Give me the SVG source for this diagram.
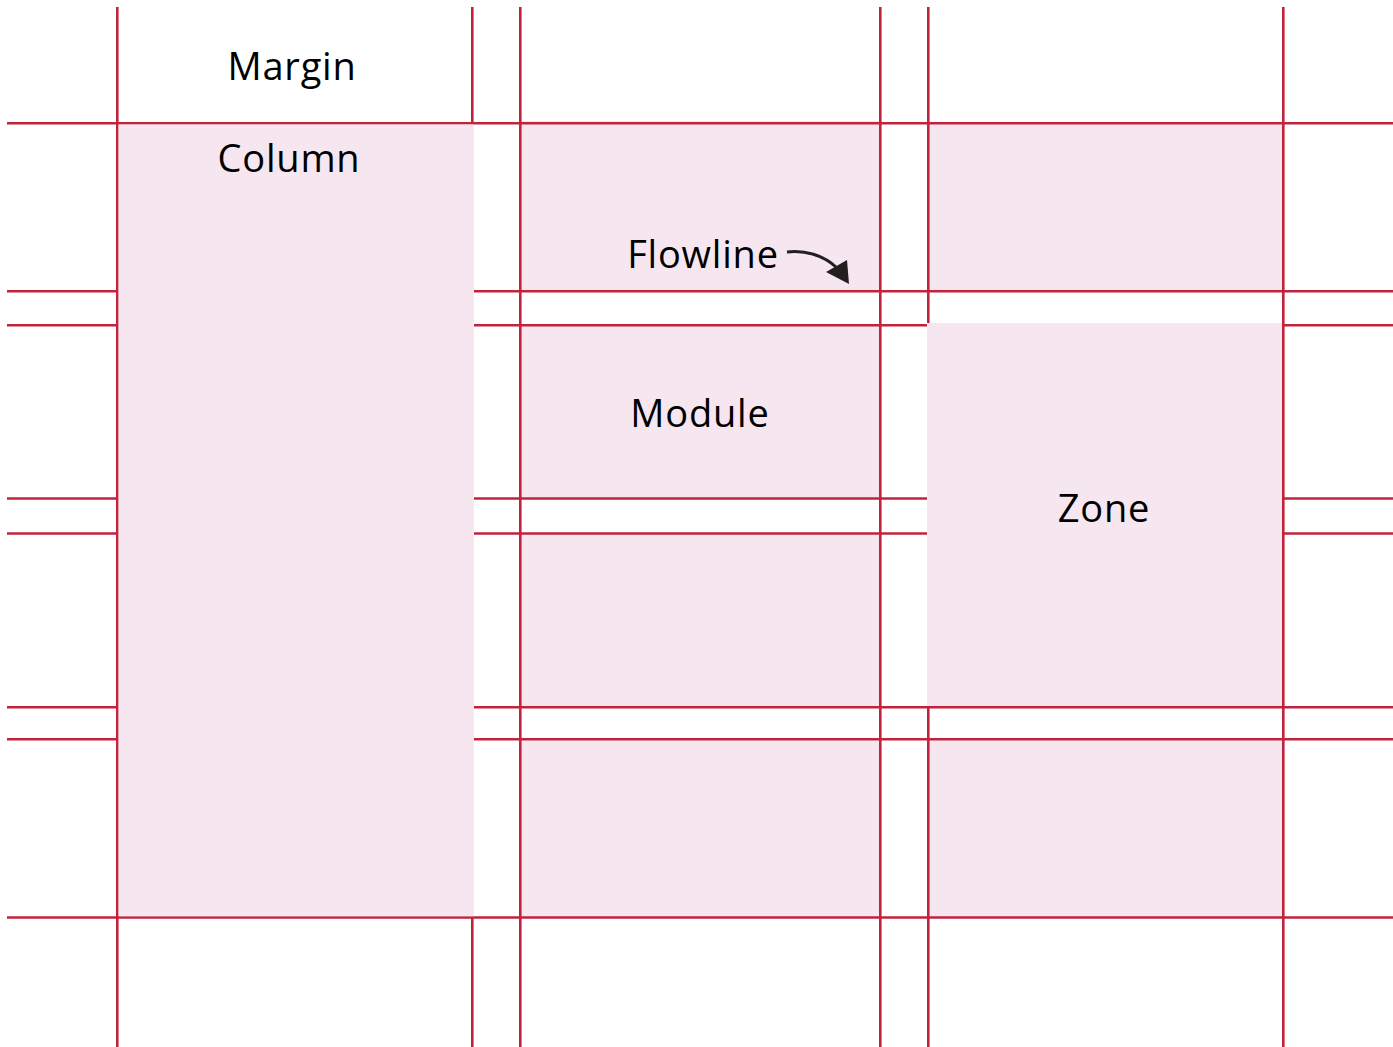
<svg xmlns="http://www.w3.org/2000/svg" width="1393" height="1047" viewBox="0 0 1393 1047">
<style>
.fill{fill:#f6e6f0}
.ln line{stroke:#c1223c;stroke-width:2.6}
.lbl{font-family:"Open Sans","Noto Sans",sans-serif;font-size:38px;letter-spacing:0.8px;fill:#000;text-anchor:middle}
</style>
<rect width="1393" height="1047" fill="#fff"/>
<g id="modules">
<rect class="fill" x="520" y="121" width="360" height="170"/>
<rect class="fill" x="928" y="123" width="355" height="168"/>
<rect class="fill" x="520" y="325" width="360" height="173"/>
<rect class="fill" x="520" y="533" width="360" height="174"/>
<rect class="fill" x="520" y="739" width="360" height="178"/>
<rect class="fill" x="928" y="739" width="355" height="178"/>
</g>
<g id="grid" class="ln">
<line x1="117.3" y1="7" x2="117.3" y2="1047"/>
<line x1="472.3" y1="7" x2="472.3" y2="123"/>
<line x1="472.3" y1="917" x2="472.3" y2="1047"/>
<line x1="520.3" y1="7" x2="520.3" y2="1047"/>
<line x1="880.3" y1="7" x2="880.3" y2="1047"/>
<line x1="928.3" y1="7" x2="928.3" y2="325"/>
<line x1="928.3" y1="707" x2="928.3" y2="1047"/>
<line x1="1283.3" y1="7" x2="1283.3" y2="1047"/>
<line x1="7" y1="123.3" x2="1393" y2="123.3"/>
<line x1="7" y1="291.3" x2="117" y2="291.3"/>
<line x1="474" y1="291.3" x2="1393" y2="291.3"/>
<line x1="7" y1="325.3" x2="117" y2="325.3"/>
<line x1="474" y1="325.3" x2="927" y2="325.3"/>
<line x1="1283" y1="325.3" x2="1393" y2="325.3"/>
<line x1="7" y1="498.5" x2="117" y2="498.5"/>
<line x1="474" y1="498.5" x2="927" y2="498.5"/>
<line x1="1283" y1="498.5" x2="1393" y2="498.5"/>
<line x1="7" y1="533.5" x2="117" y2="533.5"/>
<line x1="474" y1="533.5" x2="927" y2="533.5"/>
<line x1="1283" y1="533.5" x2="1393" y2="533.5"/>
<line x1="7" y1="707.3" x2="117" y2="707.3"/>
<line x1="474" y1="707.3" x2="1393" y2="707.3"/>
<line x1="7" y1="739.3" x2="117" y2="739.3"/>
<line x1="474" y1="739.3" x2="1393" y2="739.3"/>
<line x1="7" y1="917.5" x2="1393" y2="917.5"/>
</g>
<g id="column">
<rect class="fill" x="118.6" y="124.6" width="355.4" height="791.6"/>
<text class="lbl" x="289" y="172">Column</text>
</g>
<g id="zone">
<rect class="fill" x="927" y="323" width="355" height="383"/>
<text class="lbl" x="1104" y="522">Zone</text>
</g>
<g id="margin">
<text class="lbl" x="292" y="80">Margin</text>
</g>
<g id="module">
<text class="lbl" x="700" y="427">Module</text>
</g>
<g id="flowline">
<text class="lbl" x="703" y="268">Flowline</text>
</g>
<g id="connectors">
<path d="M787,252 C805,250 823,255 836,267" fill="none" stroke="#231f20" stroke-width="3"/>
<polygon points="826,272 847,260 849,284" fill="#231f20"/>
</g>
</svg>
